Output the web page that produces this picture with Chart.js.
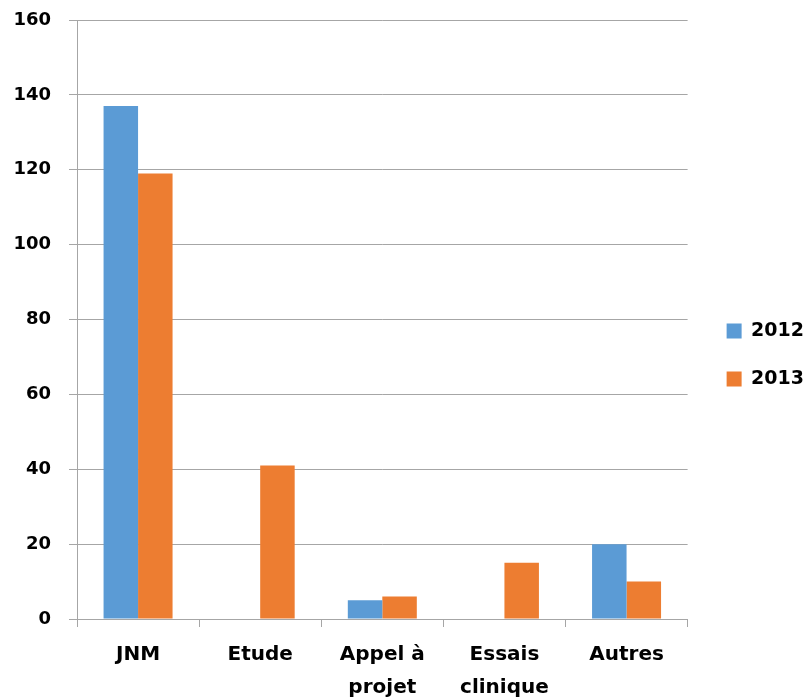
<!DOCTYPE html>
<html>
<head>
<meta charset="utf-8">
<script src="https://cdn.jsdelivr.net/npm/chart.js@4/dist/chart.umd.min.js"></script>
<style>
  html, body { margin: 0; padding: 0; background: #fff; }
  #wrap { width: 808px; height: 698px; }
</style>
</head>
<body>
<div id="wrap"><canvas id="barChart" width="808" height="698"></canvas></div>
<script>
// categories and values
const categories = ['JNM', 'Etude', ['Appel à', 'projet'], ['Essais', 'clinique'], 'Autres'];
const values2012 = [137, 0, 5, 0, 20];
const values2013 = [119, 41, 6, 15, 10];
const yTicks = [0, 20, 40, 60, 80, 100, 120, 140, 160];

const gridColor = '#a6a6a6';
const fontFamily = 'DejaVu Sans';

// empty layout box that keeps some room between the plot and the legend
const legendGap = {
    id: 'legendGap',
    beforeInit(chart) {
        Chart.layouts.addBox(chart, {
            position: 'right',
            weight: 500,
            fullSize: false,
            options: {},
            isHorizontal() { return false; },
            update(maxWidth, maxHeight) {
                this.width = 10;
                this.height = maxHeight;
            },
            draw() {}
        });
    }
};

function generateBarChart() {
    const ctx = document.getElementById('barChart').getContext('2d');
    new Chart(ctx, {
        type: 'bar',
        data: {
            labels: categories,
            datasets: [
                {
                    label: '2012',
                    data: values2012,
                    backgroundColor: '#5b9bd5',
                    borderWidth: 0
                },
                {
                    label: '2013',
                    data: values2013,
                    backgroundColor: '#ed7d31',
                    borderWidth: 0
                }
            ]
        },
        options: {
            responsive: false,
            animation: false,
            layout: {
                padding: { top: 12, right: -6, bottom: 0, left: 0 }
            },
            datasets: {
                bar: {
                    barPercentage: 1,
                    categoryPercentage: 0.565
                }
            },
            scales: {
                x: {
                    grid: {
                        offset: true,
                        drawOnChartArea: false,
                        drawTicks: true,
                        tickLength: 8,
                        color: gridColor
                    },
                    border: { color: gridColor, width: 1 },
                    ticks: {
                        color: '#000',
                        padding: 11,
                        maxRotation: 0,
                        font: { family: fontFamily, size: 20, weight: 'bold', lineHeight: 1.65 }
                    },
                    afterFit: (scale) => { scale.height = 79; }
                },
                y: {
                    min: 0,
                    max: 160,
                    afterBuildTicks: (scale) => {
                        scale.ticks = yTicks.map(v => ({ value: v }));
                    },
                    grid: {
                        color: gridColor,
                        tickLength: 8
                    },
                    border: { color: gridColor, width: 1 },
                    ticks: {
                        color: '#000',
                        padding: 18,
                        font: { family: fontFamily, size: 18, weight: 'bold' }
                    },
                    afterFit: (scale) => {
                        scale.width = 77;
                        scale.paddingTop = 20;
                        scale.paddingBottom = 0;
                    }
                }
            },
            plugins: {
                legend: {
                    position: 'right',
                    labels: {
                        color: '#000',
                        boxWidth: 15,
                        boxHeight: 15,
                        padding: 29,
                        font: { family: fontFamily, size: 19, weight: 'bold' }
                    }
                },
                tooltip: { enabled: false }
            }
        },
        plugins: [legendGap]
    });
}

generateBarChart();
</script>
</body>
</html>
